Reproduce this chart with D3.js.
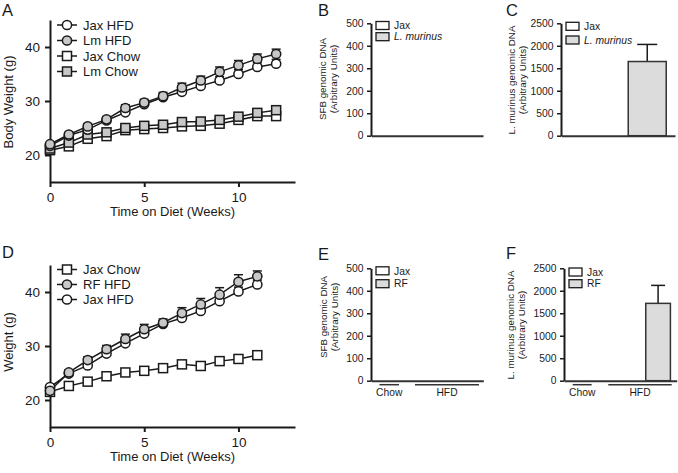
<!DOCTYPE html>
<html><head><meta charset="utf-8">
<script src="https://cdn.jsdelivr.net/npm/d3@7"></script>
<style>body{margin:0;background:#fff} text{font-family:"Liberation Sans",Arial,Helvetica,sans-serif;fill:#1a1a1a}</style>
</head><body><svg id="c" width="678" height="473"></svg>
<script>
// ---------- DATA ----------
const weeksA = [0,1,2,3,4,5,6,7,8,9,10,11,12];
const jaxHfdA  = [21.7,23.6,24.7,26.4,27.9,29.4,30.7,31.7,32.8,33.8,35.0,36.3,36.9];
const lmHfdA   = [22.0,23.8,25.3,26.6,28.7,29.7,30.9,32.5,33.8,35.4,36.6,37.8,38.7];
const jaxChowA = [20.9,21.6,23.0,23.5,24.6,24.8,25.0,25.3,25.4,25.8,26.5,27.2,27.2];
const lmChowA  = [21.2,22.3,23.8,24.2,25.0,25.4,25.6,26.1,26.2,26.5,27.1,27.8,28.3];
const jaxHfdAErr  = [0.3,0.4,0.4,0.5,0.5,0.5,0.6,0.6,0.7,0.7,0.8,0.8,0.8];
const lmHfdAErr   = [0.3,0.4,0.5,0.5,0.6,0.6,0.7,0.8,0.8,0.9,0.9,0.9,0.9];
const jaxChowAErr = [0.3,0.3,0.4,0.4,0.4,0.4,0.5,0.5,0.5,0.5,0.5,0.6,0.6];
const lmChowAErr  = [0.3,0.3,0.4,0.4,0.4,0.4,0.5,0.5,0.5,0.5,0.5,0.6,0.6];

const weeksD = [0,1,2,3,4,5,6,7,8,9,10,11];
const jaxChowD = [21.5,22.6,23.4,24.4,25.1,25.4,25.9,26.6,26.3,27.2,27.6,28.3];
const rfHfdD   = [21.7,25.1,27.4,29.4,31.3,33.1,34.3,36.1,37.7,39.5,41.9,42.9];
const jaxHfdD  = [22.4,24.9,26.4,28.6,30.5,32.3,34.1,35.2,36.5,38.3,40.1,41.4];
const jaxChowDErr = [0.3,0.3,0.4,0.4,0.4,0.4,0.4,0.5,0.5,0.5,0.5,0.5];
const rfHfdDErr   = [0.4,0.5,0.6,0.7,0.9,0.9,0.7,1.0,1.1,1.3,1.3,1.0];
const jaxHfdDErr  = [0.3,0.4,0.5,0.5,0.6,0.6,0.6,0.7,0.7,0.8,0.8,0.8];

const weekTicks = [0,5,10];
const weightTicks = [20,30,40];

const barCatsBC = ["Jax","L. murinus"];
const sfbB = [0,0];
const lmC = [0,1650];
const lmCErr = [0,380];
const sfbTicks = [0,100,200,300,400,500];
const lmTicks = [0,500,1000,1500,2000,2500];

const groupsEF = ["Chow","HFD"];
const barGroupEF = ["Chow","Chow","HFD","HFD"];
const barSeriesEF = ["Jax","RF","Jax","RF"];
const sfbE = [0,0,0,0];
const lmF = [0,0,0,1720];
const lmFErr = [0,0,0,400];

// ---------- DRAW ----------
const svg = d3.select("#c");
const INK = "#1a1a1a";
const GRAY = "#c8c8c8";
const BARGRAY = "#dcdcdc";
const FONT = '"Liberation Sans",Arial,sans-serif';

function panelLetter(t,x,y){
  svg.append("text").attr("x",x).attr("y",y).attr("font-size",16.5).text(t);
}

function symbol(g, shape, fill, cx, cy){
  if(shape==="circle"){
    g.append("circle").attr("cx",cx).attr("cy",cy).attr("r",4.6)
      .attr("fill",fill).attr("stroke",INK).attr("stroke-width",1.5);
  } else {
    g.append("rect").attr("x",cx-4.5).attr("y",cy-4.5).attr("width",9).attr("height",9)
      .attr("fill",fill).attr("stroke",INK).attr("stroke-width",1.5);
  }
}

function linePanel(c){
  const x = d3.scaleLinear().domain([0,13]).range([50,295]);
  const y = d3.scaleLinear().domain([15,45]).range([c.bottom,c.top]);
  const g = svg.append("g");
  const ax = g.append("g").attr("transform",`translate(0,${c.bottom})`)
    .call(d3.axisBottom(x).tickValues(weekTicks).tickSize(5).tickSizeOuter(0).tickPadding(5.5));
  const ay = g.append("g").attr("transform",`translate(50,0)`)
    .call(d3.axisLeft(y).tickValues(weightTicks).tickSize(5).tickSizeOuter(0).tickPadding(5));
  [ax,ay].forEach(a=>{
    a.select(".domain").attr("stroke",INK).attr("stroke-width",2);
    a.selectAll(".tick line").attr("stroke",INK).attr("stroke-width",2);
    a.selectAll(".tick text").attr("font-size",13.5).attr("fill",INK).attr("font-family",FONT);
  });
  g.append("text").attr("x",172.5).attr("y",c.bottom+34).attr("text-anchor","middle")
    .attr("font-size",13).text("Time on Diet (Weeks)");
  g.append("text").attr("transform",`translate(13,${c.titleCY}) rotate(-90)`)
    .attr("text-anchor","middle").attr("font-size",13).text(c.yTitle);
  const line = d3.line().x((d,i)=>x(c.weeks[i])).y(d=>y(d));
  c.series.forEach(s=>{
    g.append("path").attr("d",line(s.values)).attr("fill","none")
      .attr("stroke",INK).attr("stroke-width",1.5);
  });
  c.series.forEach(s=>{
    s.values.forEach((v,i)=>{
      const px = x(c.weeks[i]), top = y(v+s.err[i]);
      g.append("line").attr("x1",px).attr("x2",px).attr("y1",y(v)).attr("y2",top)
        .attr("stroke",INK).attr("stroke-width",1.5);
      g.append("line").attr("x1",px-4.5).attr("x2",px+4.5).attr("y1",top).attr("y2",top)
        .attr("stroke",INK).attr("stroke-width",1.5);
    });
  });
  c.series.forEach(s=>{
    s.values.forEach((v,i)=>symbol(g,s.shape,s.fill,x(c.weeks[i]),y(v)));
  });
  c.legend.forEach((s,i)=>{
    const ly = c.legendY[i];
    g.append("line").attr("x1",57).attr("x2",77).attr("y1",ly).attr("y2",ly)
      .attr("stroke",INK).attr("stroke-width",1.5);
    symbol(g,s.shape,s.fill,67,ly);
    g.append("text").attr("x",83).attr("y",ly+4.7).attr("font-size",13).text(s.name);
  });
}

const sA = {
  jaxHfd:{name:"Jax HFD",values:jaxHfdA,err:jaxHfdAErr,shape:"circle",fill:"#fff"},
  lmHfd:{name:"Lm HFD",values:lmHfdA,err:lmHfdAErr,shape:"circle",fill:GRAY},
  jaxChow:{name:"Jax Chow",values:jaxChowA,err:jaxChowAErr,shape:"square",fill:"#fff"},
  lmChow:{name:"Lm Chow",values:lmChowA,err:lmChowAErr,shape:"square",fill:GRAY}
};
linePanel({top:20,bottom:182,weeks:weeksA,yTitle:"Body  Weight (g)",titleCY:102,
  series:[sA.jaxChow,sA.lmChow,sA.jaxHfd,sA.lmHfd],
  legend:[sA.jaxHfd,sA.lmHfd,sA.jaxChow,sA.lmChow],legendY:[25,40.5,56,71.5]});

const sD = {
  jaxChow:{name:"Jax Chow",values:jaxChowD,err:jaxChowDErr,shape:"square",fill:"#fff"},
  rfHfd:{name:"RF HFD",values:rfHfdD,err:rfHfdDErr,shape:"circle",fill:GRAY},
  jaxHfd:{name:"Jax HFD",values:jaxHfdD,err:jaxHfdDErr,shape:"circle",fill:"#fff"}
};
linePanel({top:265,bottom:427,weeks:weeksD,yTitle:"Weight (g)",titleCY:342,
  series:[sD.jaxChow,sD.jaxHfd,sD.rfHfd],
  legend:[sD.jaxChow,sD.rfHfd,sD.jaxHfd],legendY:[269.5,284.5,299.5]});

function barPanel(c){
  const g = svg.append("g");
  const y = d3.scaleLinear().domain([0,c.yMax]).range([c.bottom,c.top]);
  const x = d3.scaleBand().domain(c.keys).range([c.x0,c.x1])
    .paddingInner(c.pi).paddingOuter(c.po);
  const ay = g.append("g").attr("transform",`translate(${c.x0},0)`)
    .call(d3.axisLeft(y).tickValues(c.ticks).tickFormat(d3.format("d"))
      .tickSize(4).tickSizeOuter(0).tickPadding(3.5));
  ay.select(".domain").attr("stroke",INK).attr("stroke-width",2);
  ay.selectAll(".tick line").attr("stroke",INK).attr("stroke-width",1.5);
  ay.selectAll(".tick text").attr("font-size",10.3).attr("fill",INK).attr("font-family",FONT);
  c.values.forEach((v,i)=>{
    if(v<=0) return;
    const bx = x(c.keys[i]), bw = x.bandwidth();
    const cx = bx+bw/2, top = y(v+c.errs[i]);
    g.append("line").attr("x1",cx).attr("x2",cx).attr("y1",y(v)).attr("y2",top)
      .attr("stroke",INK).attr("stroke-width",1.5);
    g.append("line").attr("x1",cx-c.cap/2).attr("x2",cx+c.cap/2).attr("y1",top).attr("y2",top)
      .attr("stroke",INK).attr("stroke-width",1.5);
    g.append("rect").attr("x",bx).attr("y",y(v)).attr("width",bw).attr("height",y(0)-y(v))
      .attr("fill",c.fills[i]).attr("stroke","#333").attr("stroke-width",1.5);
  });
  const axx = g.append("g").attr("transform",`translate(0,${c.bottom})`)
    .call(d3.axisBottom(x).tickSize(0).tickSizeOuter(0).tickFormat(""));
  axx.select(".domain").attr("stroke","#333").attr("stroke-width",2);
  c.label.forEach((t,i)=>{
    g.append("text").attr("transform",`translate(${c.labelX[i]},${c.labelCY}) rotate(-90)`)
      .attr("text-anchor","middle").attr("font-size",9.8).text(t);
  });
  c.legend.forEach((s,i)=>{
    const ly = c.legendY[i];
    g.append("rect").attr("x",c.x0+5).attr("y",ly-4).attr("width",13).attr("height",8)
      .attr("fill",s.fill).attr("stroke",INK).attr("stroke-width",1.3);
    g.append("text").attr("x",c.x0+23).attr("y",ly+3.7).attr("font-size",10.3)
      .attr("font-style",s.italic?"italic":"normal").text(s.name);
  });
  if(c.groups){
    c.groups.forEach((gr,i)=>{
      const [a,b] = c.groupSpan[i];
      g.append("line").attr("x1",c.x0+a).attr("x2",c.x0+b).attr("y1",c.bottom+4).attr("y2",c.bottom+4)
        .attr("stroke","#333").attr("stroke-width",1.5);
      g.append("text").attr("x",c.x0+(a+b)/2).attr("y",c.bottom+15).attr("text-anchor","middle")
        .attr("font-size",10.3).text(gr);
    });
  }
}

const legBC = [{name:"Jax",fill:"#fff"},{name:"L. murinus",fill:BARGRAY,italic:true}];
const legEF = [{name:"Jax",fill:"#fff"},{name:"RF",fill:BARGRAY}];
const fillsBC = ["#fff",BARGRAY];
const fillsEF = barSeriesEF.map(s=>s==="Jax"?"#fff":BARGRAY);
const keysEF = barGroupEF.map((g,i)=>g+"-"+barSeriesEF[i]);

barPanel({x0:371,x1:483,top:23.3,bottom:135.7,yMax:500,ticks:sfbTicks,keys:barCatsBC,
  values:sfbB,errs:[0,0],fills:fillsBC,pi:0.35,po:0.15,cap:20,
  label:["SFB genomic DNA","(Arbitrary Units)"],labelX:[325.5,337],labelCY:79,
  legend:legBC,legendY:[25.5,36.7]});
barPanel({x0:561,x1:675,top:23.3,bottom:135.7,yMax:2500,ticks:lmTicks,keys:barCatsBC,
  values:lmC,errs:lmCErr,fills:fillsBC,pi:0.35,po:0.15,cap:20,
  label:["L. murinus genomic DNA","(Arbitrary Units)"],labelX:[515,526],labelCY:80,
  legend:legBC,legendY:[26.3,40]});
barPanel({x0:371,x1:483.3,top:268.3,bottom:380.7,yMax:500,ticks:sfbTicks,keys:keysEF,
  values:sfbE,errs:[0,0,0,0],fills:fillsEF,pi:0.02,po:0.25,cap:14,
  label:["SFB genomic DNA","(Arbitrary Units)"],labelX:[326.5,337.5],labelCY:317,
  legend:legEF,legendY:[270.8,283.7],groups:groupsEF,groupSpan:[[8.5,28],[44,108]]});
barPanel({x0:564,x1:676.7,top:268.3,bottom:380.7,yMax:2500,ticks:lmTicks,keys:keysEF,
  values:lmF,errs:lmFErr,fills:fillsEF,pi:0.02,po:0.25,cap:14,
  label:["L. murinus genomic DNA","(Arbitrary Units)"],labelX:[514,525],labelCY:325,
  legend:legEF,legendY:[272,283.7],groups:groupsEF,groupSpan:[[8.7,27.7],[44.3,107.7]]});

panelLetter("A",2,15.5);
panelLetter("B",318,15.5);
panelLetter("C",506,15.5);
panelLetter("D",2,258);
panelLetter("E",318,260);
panelLetter("F",506,259);
</script></body></html>
